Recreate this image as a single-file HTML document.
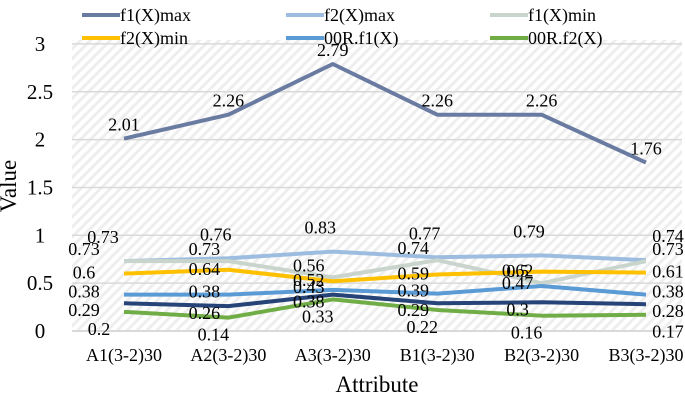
<!DOCTYPE html>
<html><head><meta charset="utf-8"><style>
html,body{margin:0;padding:0;background:#fff}
svg, svg text{font-family:"Liberation Serif","Times New Roman",serif}
</style></head><body>
<svg id="chart" width="685" height="400" font-family="Liberation Serif, serif">
<defs>
<pattern id="hatch" width="7" height="7" patternUnits="userSpaceOnUse" patternTransform="rotate(45)">
<rect width="7" height="7" fill="#fff"/><rect width="3" height="7" fill="#eeeeee"/>
</pattern>
</defs>
<rect x="72" y="40" width="610" height="292" fill="url(#hatch)"/>
<g id="grid"></g><g id="lines"></g><g id="labels"></g>
<text x="16" y="186" font-size="23" text-anchor="middle" transform="rotate(-90 16 186)">Value</text>
<text x="377" y="392" font-size="23" text-anchor="middle">Attribute</text>
<g id="legend"></g>
</svg>
<script>
const categories=["A1(3-2)30","A2(3-2)30","A3(3-2)30","B1(3-2)30","B2(3-2)30","B3(3-2)30"];
const yTicks=[0,0.5,1,1.5,2,2.5,3];
const f1max=[2.01,2.26,2.79,2.26,2.26,1.76];
const f2max=[0.73,0.76,0.83,0.77,0.79,0.74];
const f1min=[0.73,0.73,0.56,0.74,0.5,0.73];
const f2min=[0.6,0.64,0.52,0.59,0.62,0.61];
const r00f1=[0.38,0.38,0.43,0.39,0.47,0.38];
const r00f2=[0.2,0.14,0.33,0.22,0.16,0.17];
const navy=[0.29,0.26,0.38,0.29,0.3,0.28];
const NS="http://www.w3.org/2000/svg";
const x=i=>124+i*104.4;
const y=v=>331-v*95.7;
function mk(t,a,p){const e=document.createElementNS(NS,t);for(const k in a)e.setAttribute(k,a[k]);if(t==='text')e.setAttribute('font-family','Liberation Serif, serif');document.getElementById(p).appendChild(e);return e;}
yTicks.forEach(v=>{
 const l=mk('line',{x1:72,x2:682,y1:y(v),y2:y(v),stroke:'#d9d9d9','stroke-width':v===0?2:1.5},'grid');
 
 
 const t=mk('text',{x:40,y:y(v)+7,'font-size':21,'text-anchor':'middle'},'grid');t.textContent=v;
 
 
});
categories.forEach((c,i)=>{
 const t=mk('text',{x:x(i),y:361,'font-size':18,'text-anchor':'middle'},'grid');t.textContent=c;
 
 
});
const series=[
 {d:f1max,c:'#6a7ba2',dx:0,dy:-14,name:'f1max'},
 {d:f2max,c:'#9dbde0',dx:-21,dy:-24,name:'f2max'},
 {d:f1min,c:'#c9d5cc',dx:-40,dy:-12,name:'f1min'},
 {d:f2min,c:'#ffc000',dx:-40,dy:-1,name:'f2min'},
 {d:r00f1,c:'#5b9bd5',dx:-40,dy:-3,name:'00r-f1'},
 {d:navy,c:'#264478',dx:-40,dy:7,name:'navy'},
 {d:r00f2,c:'#70ad47',dx:-25,dy:17,name:'00r-f2'}
];
series.forEach(s=>{
 const p=mk('polyline',{points:s.d.map((v,i)=>x(i)+','+y(v)).join(' '),fill:'none',stroke:s.c,'stroke-width':4,'stroke-linejoin':'round'},'lines');
 
 
 s.d.forEach((v,i)=>{
  const dx=i===5?(s.dx===0?0:22):(i===0?s.dx:s.dx*0.6);
  const t=mk('text',{x:x(i)+dx,y:y(v)+s.dy+6,'font-size':18,'text-anchor':'middle'},'labels');
  t.textContent=v;
  
  
 });
});
const leg=[["f1(X)max",'#6a7ba2'],["f2(X)max",'#9dbde0'],["f1(X)min",'#c9d5cc'],["f2(X)min",'#ffc000'],["00R.f1(X)",'#5b9bd5'],["00R.f2(X)",'#70ad47']];
leg.forEach((e,i)=>{
 const lx=82+(i%3)*204, ly=15+Math.floor(i/3)*23;
 const l=mk('line',{x1:lx,x2:lx+38,y1:ly,y2:ly,stroke:e[1],'stroke-width':4},'legend');
 
 
 const t=mk('text',{x:lx+38,y:ly+6,'font-size':18},'legend');t.textContent=e[0];
 
 
});
</script>
</body></html>
